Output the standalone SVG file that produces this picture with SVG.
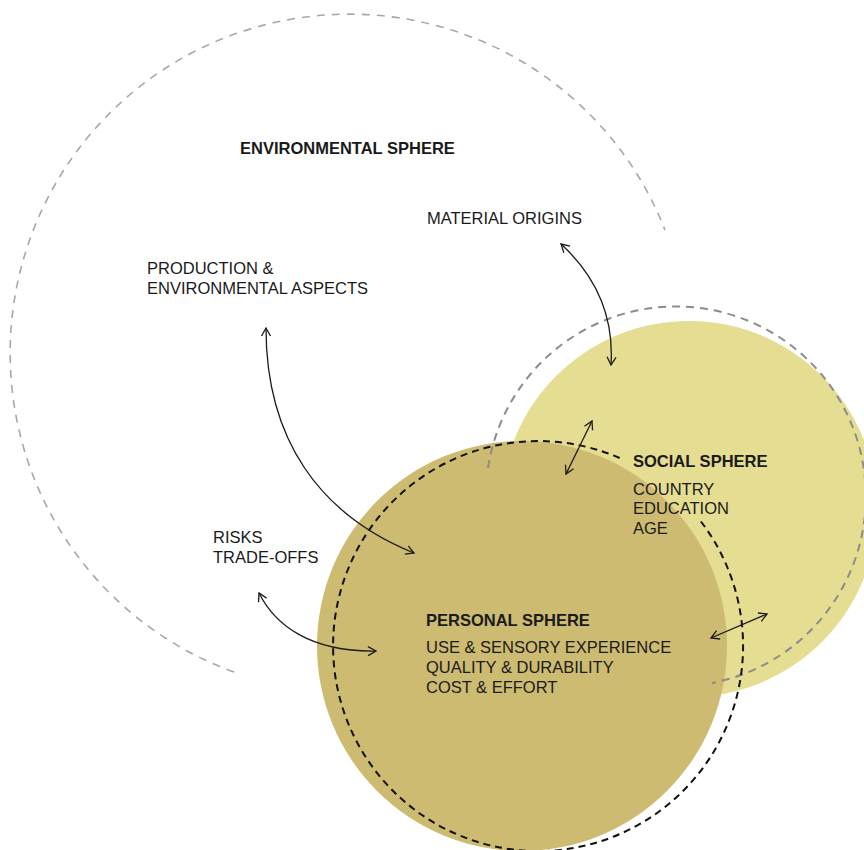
<svg xmlns="http://www.w3.org/2000/svg" width="864" height="850" viewBox="0 0 864 850">
<style>
  text { font-family: "Liberation Sans", Arial, sans-serif; font-size: 16.5px; fill: #1a1a1a; }
  .b { font-weight: bold; }
  .env { fill: none; stroke: #a8a8a8; stroke-width: 1.6; stroke-dasharray: 8 7; }
  .soc { fill: none; stroke: #8c8c8c; stroke-width: 2; stroke-dasharray: 8 6; }
  .per { fill: none; stroke: #111; stroke-width: 2; stroke-dasharray: 7 5; }
  .arr { fill: none; stroke: #1a1a1a; stroke-width: 1.3; marker-start: url(#ah); marker-end: url(#ah); }
</style>
<defs>
  <marker id="ah" viewBox="-10 -6 12 12" refX="0" refY="0" markerWidth="12" markerHeight="12" markerUnits="userSpaceOnUse" orient="auto-start-reverse">
    <path d="M -8 -4.5 L 0 0 L -8 4.5" fill="none" stroke="#1a1a1a" stroke-width="1.3"/>
  </marker>
</defs>
<rect width="864" height="850" fill="#ffffff"/>
<g id="environmental-sphere">
  <path class="env" d="M 234 672 A 339 339 0 1 1 665 230"/>
  <text class="b" x="240" y="154">ENVIRONMENTAL SPHERE</text>
  <text x="427" y="224">MATERIAL ORIGINS</text>
  <text x="147" y="274">PRODUCTION &amp;</text>
  <text x="147" y="294">ENVIRONMENTAL ASPECTS</text>
  <text x="213" y="543">RISKS</text>
  <text x="213" y="563">TRADE-OFFS</text>
</g>
<g id="social-sphere">
  <circle cx="689" cy="509" r="188" fill="#e5dd91"/>
</g>
<g id="personal-sphere">
  <circle cx="522" cy="646" r="205" fill="#cdbb71"/>
</g>
<g id="social-outline">
  <path class="soc" d="M 488 468 A 190 190 0 1 1 712 683"/>
  <text class="b" x="633" y="467">SOCIAL SPHERE</text>
  <text x="633" y="495">COUNTRY</text>
  <text x="633" y="514">EDUCATION</text>
  <text x="633" y="534">AGE</text>
</g>
<g id="personal-outline">
  <path class="per" d="M 700.9 521.5 A 205 205 0 1 1 622.4 459.2"/>
  <text class="b" x="426" y="626">PERSONAL SPHERE</text>
  <text x="426" y="653">USE &amp; SENSORY EXPERIENCE</text>
  <text x="426" y="673">QUALITY &amp; DURABILITY</text>
  <text x="426" y="693">COST &amp; EFFORT</text>
</g>
<g id="connectors">
  <path class="arr" d="M 561 244 C 598 278, 614 318, 611 365"/>
  <path class="arr" d="M 266 328 C 266 440, 320 515, 414 553"/>
  <path class="arr" d="M 592 421 L 566 474"/>
  <path class="arr" d="M 259 593 C 275 625, 310 652, 376 651"/>
  <path class="arr" d="M 711 638 L 767 614"/>
</g>
</svg>
